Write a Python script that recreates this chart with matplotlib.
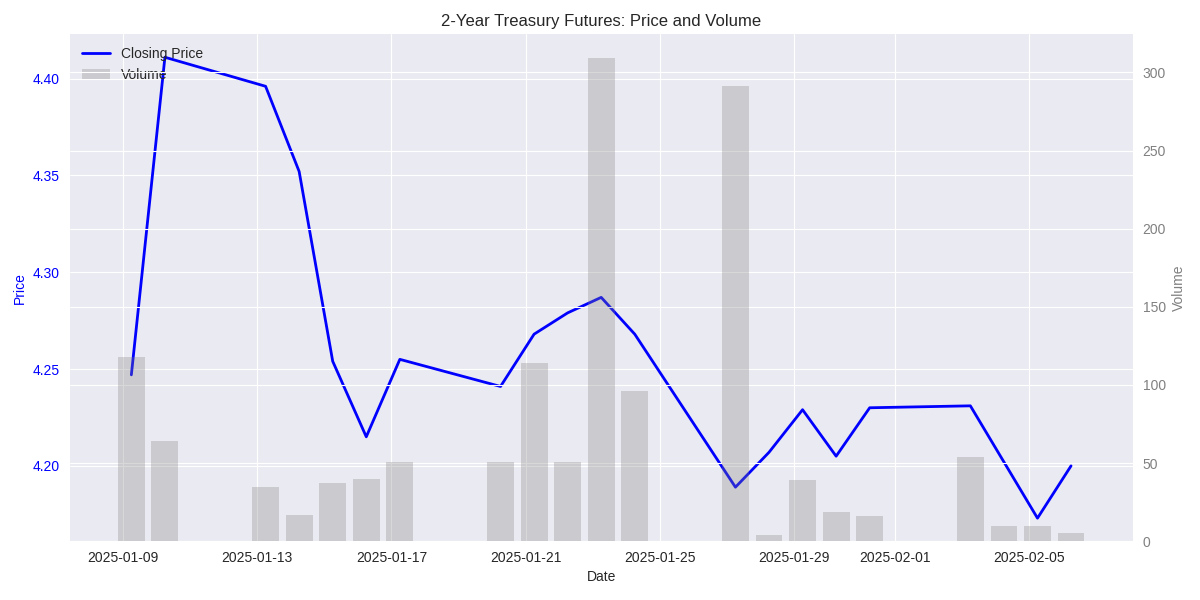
import numpy as np
import matplotlib
matplotlib.use("Agg")
import matplotlib.pyplot as plt
import pandas as pd

plt.style.use("seaborn-v0_8-darkgrid")
plt.rcParams["font.family"] = ["Liberation Sans", "DejaVu Sans"]
plt.rcParams["xtick.major.pad"] = 7
plt.rcParams["ytick.major.pad"] = 7

dates = ["2025-01-09", "2025-01-10", "2025-01-13", "2025-01-14", "2025-01-15",
         "2025-01-16", "2025-01-17", "2025-01-20", "2025-01-21", "2025-01-22",
         "2025-01-23", "2025-01-24", "2025-01-27", "2025-01-28", "2025-01-29",
         "2025-01-30", "2025-01-31", "2025-02-03", "2025-02-04", "2025-02-05",
         "2025-02-06"]
close = [4.247, 4.411, 4.396, 4.352, 4.254, 4.215, 4.255, 4.241, 4.268, 4.279,
         4.287, 4.268, 4.189, 4.207, 4.229, 4.205, 4.230, 4.231, 4.202, 4.173,
         4.200]
volume = [118, 64, 35, 17, 37, 40, 51, 51, 114, 51, 309, 96, 291, 4, 39, 19, 16,
          54, 10, 10, 5]

# timestamps are midnight Chicago time -> 06:00 UTC
idx = pd.to_datetime(dates) + pd.Timedelta(hours=6)

fig, ax1 = plt.subplots(figsize=(12, 6), dpi=100)

ax1.plot(idx, close, color="blue", linewidth=2, label="Closing Price")
ax1.set_xlabel("Date")
ax1.set_ylabel("Price", color="blue")
ax1.tick_params(axis="y", labelcolor="blue")

ax2 = ax1.twinx()
ax2.bar(idx, volume, color="gray", alpha=0.3, label="Volume")
ax2.set_ylabel("Volume", color="gray")
ax2.tick_params(axis="y", labelcolor="gray")

h1, l1 = ax1.get_legend_handles_labels()
h2, l2 = ax2.get_legend_handles_labels()
ax1.legend(h1 + h2, l1 + l2, loc="upper left")

plt.title("2-Year Treasury Futures: Price and Volume")
fig.subplots_adjust(left=0.058, right=0.944, bottom=0.098, top=0.943)
plt.savefig("out.png")
